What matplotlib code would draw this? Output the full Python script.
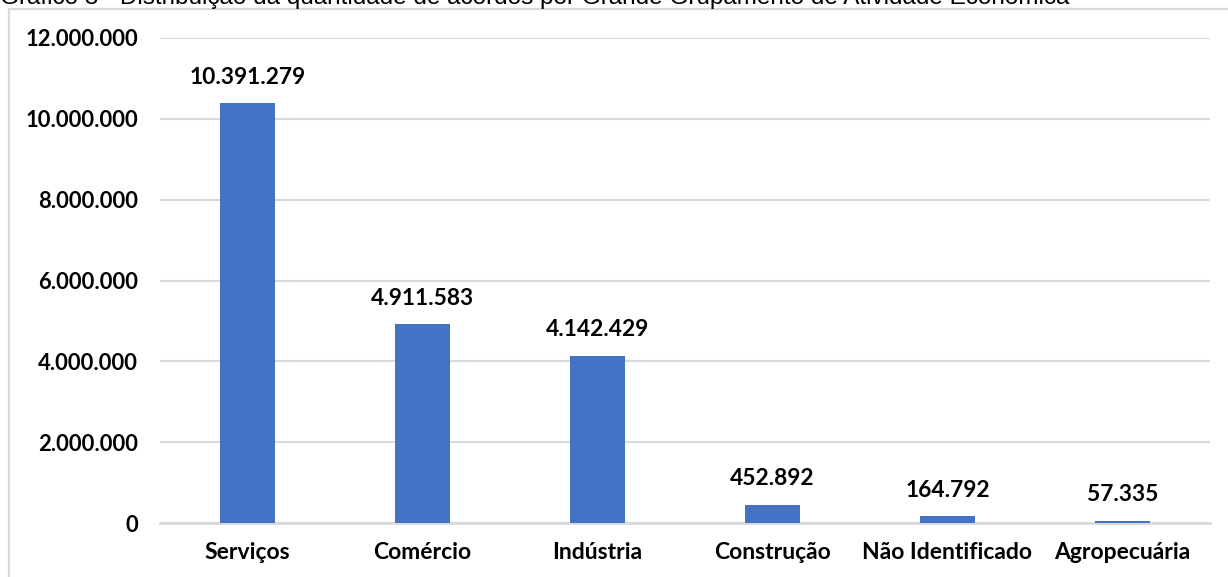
import matplotlib
matplotlib.use("Agg")
import matplotlib.pyplot as plt
from matplotlib.patches import Rectangle
from matplotlib.ticker import FuncFormatter

categories = ["Serviços", "Comércio", "Indústria", "Construção", "Não Identificado", "Agropecuária"]
values = [10391279, 4911583, 4142429, 452892, 164792, 57335]
yticks = [0, 2000000, 4000000, 6000000, 8000000, 10000000, 12000000]
title = "Gráfico 8 - Distribuição da quantidade de acordos por Grande Grupamento de Atividade Econômica"

def fmt(v, pos=None):
    return f"{int(v):,}".replace(",", ".")

W, H = 1228, 577
fig = plt.figure(figsize=(W / 100, H / 100), dpi=100)
fig.patch.set_facecolor("white")

# outer chart frame
fig.add_artist(Rectangle((9 / W, -0.1), 1.2, 1 - 9 / H + 0.1, transform=fig.transFigure,
                         fill=False, edgecolor="#d9d9d9", linewidth=1.6, clip_on=False))

fig.text(0.0, 1 - 4 / H, title, ha="left", va="baseline", fontsize=17.5,
         family="Liberation Sans", color="#000000")

ax = fig.add_axes([160 / W, 1 - 523 / H, 1050 / W, (523 - 38) / H])
x = range(len(categories))
ax.bar(x, values, width=0.315, color="#4472C4", zorder=3)
ax.set_xlim(-0.5, len(categories) - 0.5)
ax.set_ylim(0, 12000000)
ax.set_yticks(yticks)
ax.yaxis.set_major_formatter(FuncFormatter(fmt))
ax.set_xticks(list(x))
ax.set_xticklabels(categories)
ax.grid(axis="y", color="#d9d9d9", linewidth=1.5, zorder=0)
for s in ["top", "right", "left"]:
    ax.spines[s].set_visible(False)
ax.spines["bottom"].set_color("#d9d9d9")
ax.spines["bottom"].set_linewidth(2)
ax.spines["bottom"].set_zorder(2)
ax.tick_params(axis="y", length=0, pad=16, labelsize=15.8)
ax.tick_params(axis="x", length=0, pad=13.5, labelsize=16.5)
for lab in ax.get_xticklabels() + ax.get_yticklabels():
    lab.set_fontfamily("Lato")
    lab.set_fontweight("bold")
    lab.set_color("#000000")

for xi, v in zip(x, values):
    ax.annotate(fmt(v), (xi, v), xytext=(0, 11), textcoords="offset points",
                ha="center", va="bottom", fontsize=16.4, fontfamily="Lato",
                fontweight="bold", color="#000000")

fig.savefig("out.png", dpi=100)
